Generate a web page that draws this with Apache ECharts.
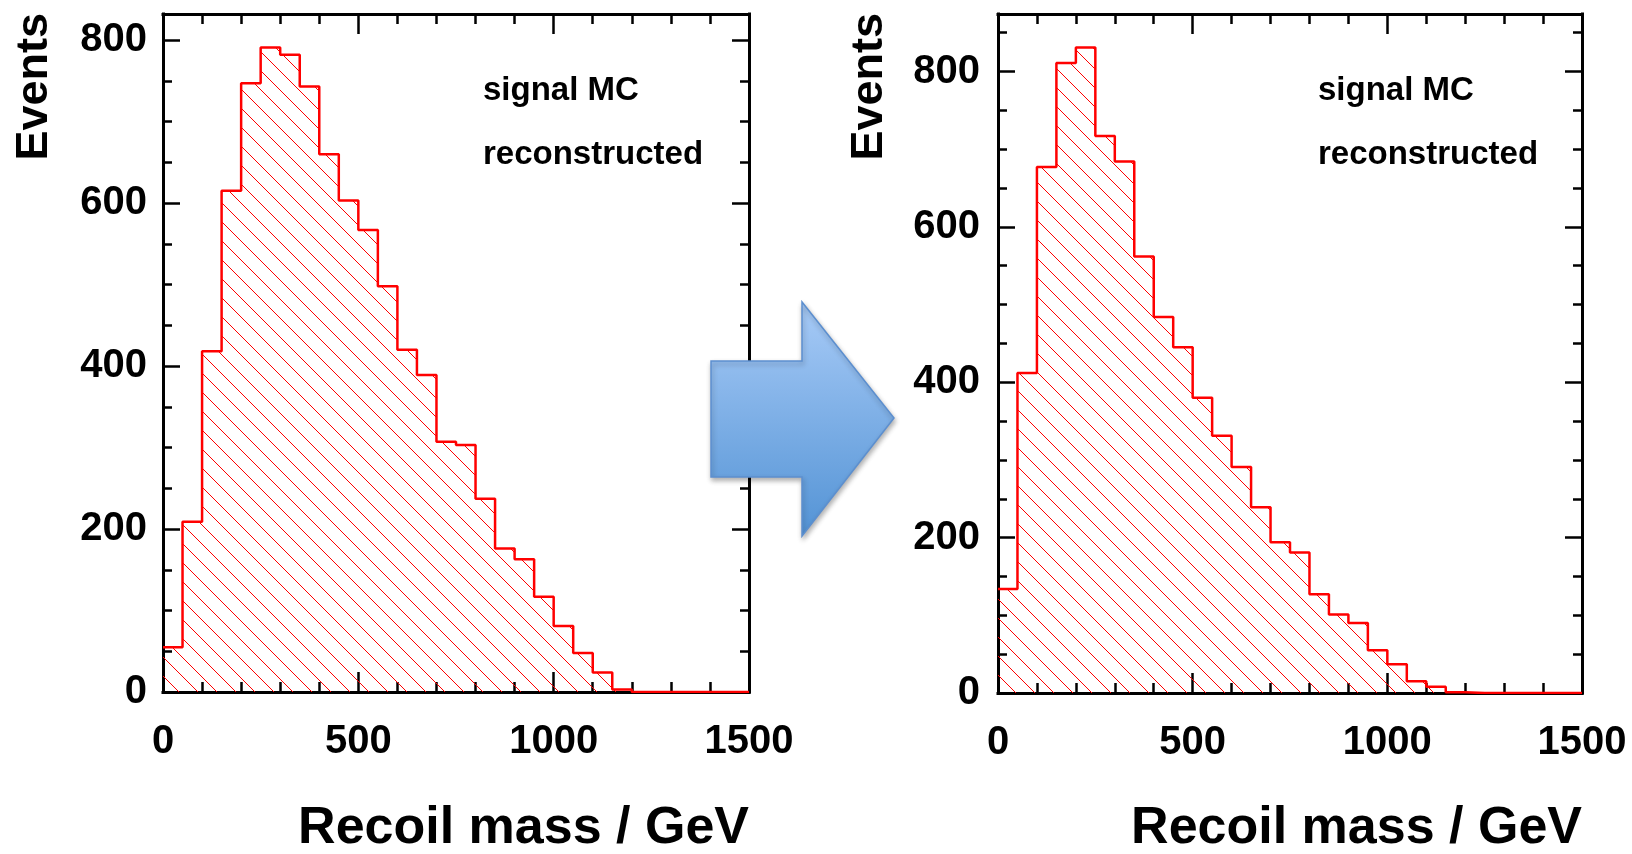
<!DOCTYPE html>
<html>
<head>
<meta charset="utf-8">
<script src="https://cdn.jsdelivr.net/npm/echarts@6/dist/echarts.min.js"></script>
<style>
html,body{margin:0;padding:0;background:#fff;}
#chart{width:1632px;height:854px;}
</style>
</head>
<body>
<div id="chart"></div>
<script>
// Bin left edges (GeV), bin width 50
const binEdges = [0,50,100,150,200,250,300,350,400,450,500,550,600,650,700,750,800,850,900,950,1000,1050,1100,1150,1200,1250,1300,1350,1400,1450,1500];
// Left panel: signal MC reconstructed (before)
const leftCounts = [55,209,418,615,747,791,782,743,660,603,567,498,420,389,307,303,237,176,163,117,81,48,24,3,0,0,0,0,0,0];
// Right panel: signal MC reconstructed (after)
const rightCounts = [134,412,677,811,831,717,684,562,484,445,380,331,291,239,194,181,127,101,90,55,37,15,8,1,0,0,0,0,0,0];
const xTicks = [0,500,1000,1500];
const yTicks = [0,200,400,600,800];
const leftYMax = 832;
const rightYMax = 874;
const texts = ['signal MC','reconstructed'];
const xTitle = 'Recoil mass / GeV';
const yTitle = 'Events';

function stepData(counts){
  const d = counts.map((v,i)=>[binEdges[i], v]);
  d.push([binEdges[counts.length], counts[counts.length-1]]);
  return d;
}
function hatchCanvas(s){
  const c=document.createElement('canvas'); c.width=s; c.height=s;
  const g=c.getContext('2d'); g.strokeStyle='#ff0000'; g.lineWidth=1;
  g.beginPath();
  for(let k=-1;k<=1;k++){ g.moveTo(k*s,0); g.lineTo(k*s+s,s); }
  g.stroke();
  return c;
}
const hatch = hatchCanvas(19);
const FONT = 'Liberation Sans';
const axisLineStyle = {color:'#000', width:3, cap:'square'};

function xAxisPair(gi){
  const base = {
    gridIndex: gi, type:'value', min:0, max:1500, interval:500,
    splitLine:{show:false},
    axisLine:{show:true, onZero:false, lineStyle:axisLineStyle},
    axisTick:{show:true, inside:true, length:20, lineStyle:{color:'#000', width:2.5}},
    minorTick:{show:true, splitNumber:5, length:10, lineStyle:{color:'#000', width:2.5}}
  };
  return [
    Object.assign({}, base, {position:'bottom',
      axisLabel:{show:true, margin:30, color:'#000', fontFamily:FONT, fontWeight:'bold', fontSize:40,
        customValues: xTicks, formatter: v => String(v)}}),
    Object.assign({}, base, {position:'top', axisLabel:{show:false}})
  ];
}
function yAxisPair(gi, ymax, lblMargin){
  const base = {
    gridIndex: gi, type:'value', min:0, max:ymax, interval:200,
    splitLine:{show:false},
    axisLine:{show:true, onZero:false, lineStyle:axisLineStyle},
    axisTick:{show:true, inside:true, length:17, lineStyle:{color:'#000', width:2.5}},
    minorTick:{show:true, splitNumber:4, length:9, lineStyle:{color:'#000', width:2.5}}
  };
  return [
    Object.assign({}, base, {position:'left',
      axisLabel:{show:true, margin:lblMargin, color:'#000', fontFamily:FONT, fontWeight:'bold', fontSize:40,
        customValues: yTicks, formatter: v => String(v)}}),
    Object.assign({}, base, {position:'right', axisLabel:{show:false}})
  ];
}
function histSeries(counts, xi, yi){
  return {
    type:'line', xAxisIndex:xi, yAxisIndex:yi, step:'end', symbol:'none',
    data: stepData(counts), animation:false,
    lineStyle:{color:'#ff0000', width:2.5},
    areaStyle:{color:{image:hatch, repeat:'repeat'}, opacity:1, origin:'start'}
  };
}
function txt(x,y,t,size,align,rot){
  return {type:'text', x:x, y:y, rotation:rot||0, z:100,
    style:{text:t, fill:'#000', font:'bold '+size+'px "'+FONT+'"', align:align||'left', verticalAlign:'bottom'}};
}

const chart = echarts.init(document.getElementById('chart'));
chart.setOption({
  animation:false,
  backgroundColor:'#fff',
  grid:[
    {left:163, top:14, width:586, height:678},
    {left:998, top:14, width:584, height:679}
  ],
  xAxis: xAxisPair(0).concat(xAxisPair(1)),
  yAxis: yAxisPair(0, leftYMax, 16).concat(yAxisPair(1, rightYMax, 18)),
  series:[
    histSeries(leftCounts, 0, 0),
    histSeries(rightCounts, 2, 2)
  ],
  graphic:[
    txt(483,107,texts[0],33),
    txt(483,171,texts[1],33),
    txt(1318,107,texts[0],33),
    txt(1318,171,texts[1],33),
    txt(749,855,xTitle,52,'right'),
    txt(1582,855,xTitle,52,'right'),
    txt(57,13,yTitle,45,'right',Math.PI/2),
    txt(892,13,yTitle,45,'right',Math.PI/2),
    {type:'polygon', z:50,
     shape:{points:[[711,361],[802,361],[802,302],[894,418],[802,536],[802,477],[711,477]]},
     style:{
       fill:new echarts.graphic.LinearGradient(0,0,0,1,[{offset:0,color:'#a8cbf7'},{offset:1,color:'#5393d5'}]),
       stroke:'#5c8fcf', lineWidth:1.5,
       shadowBlur:5, shadowOffsetX:1, shadowOffsetY:3, shadowColor:'rgba(0,0,0,0.3)'
     }}
  ]
});
</script>
</body>
</html>
